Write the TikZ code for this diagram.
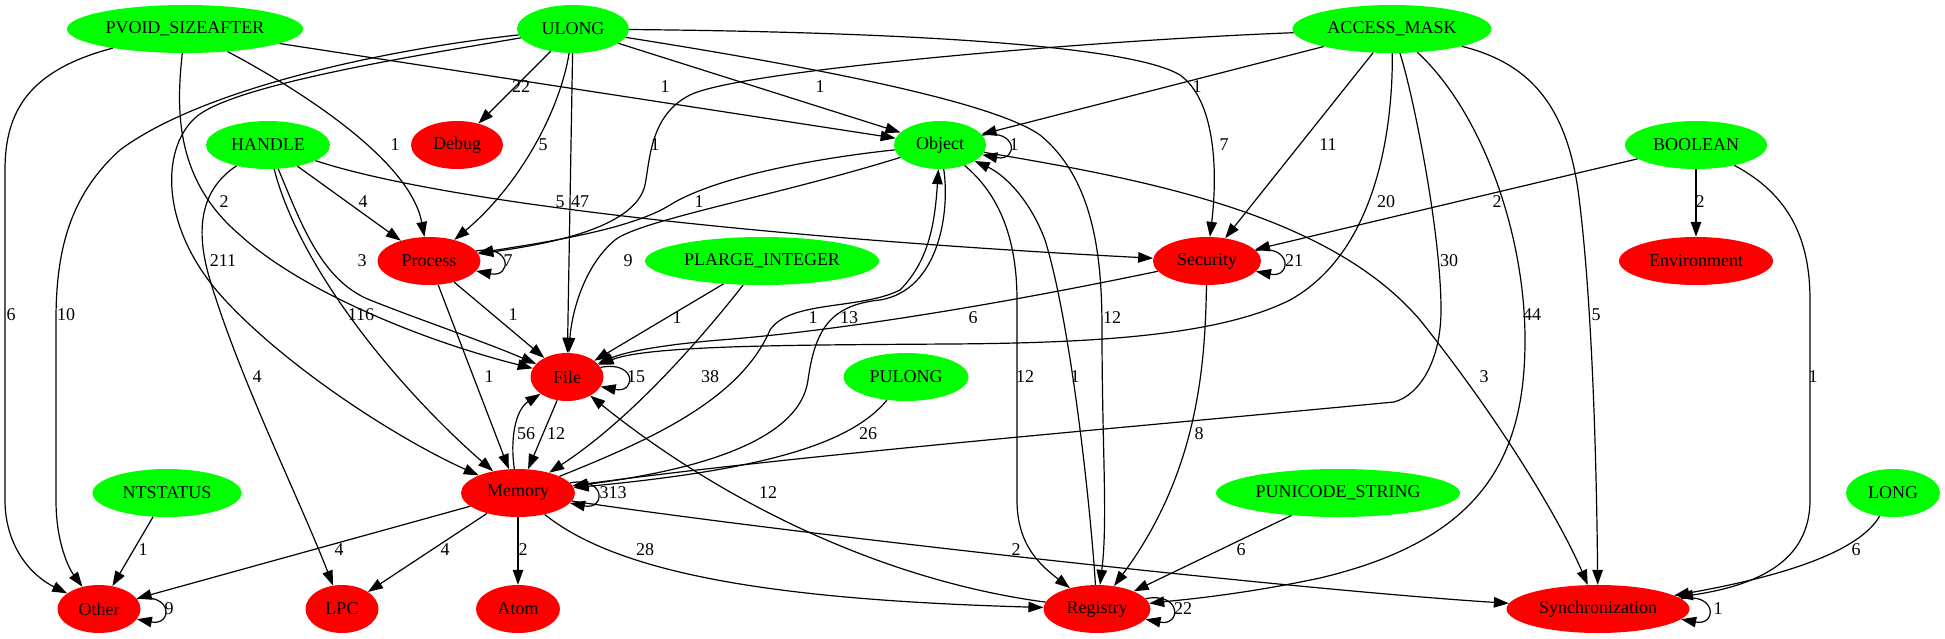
\documentclass[tikz,border=0pt]{standalone}
\usepackage{fontspec}
\setmainfont{Liberation Serif}
\usetikzlibrary{arrows.meta,shapes.geometric}
\definecolor{gvgreen}{HTML}{00FF00}
\definecolor{gvred}{HTML}{FF0000}
\begin{document}
\begin{tikzpicture}[x=1pt,y=-1pt,
  every node/.style={font=\fontsize{18}{20}\selectfont},
  gnode/.style={ellipse,fill=gvgreen,draw=none,inner sep=0pt,minimum height=48pt},
  rnode/.style={ellipse,fill=gvred,draw=none,inner sep=0pt,minimum height=48pt},
  conn/.style={line width=1.2pt,-{Triangle[length=15pt,width=10.5pt]}},
  lbl/.style={inner sep=0pt}
]
\useasboundingbox (0,0) rectangle (1945,639);
% nodes
\node[gnode,minimum width=236pt] (pvoid) at (185,29) {PVOID\_SIZEAFTER};
\node[gnode,minimum width=112pt] (ulong) at (573,29) {ULONG};
\node[gnode,minimum width=199pt] (amask) at (1392,29) {ACCESS\_MASK};
\node[gnode,minimum width=124pt] (handle) at (268,145) {HANDLE};
\node[rnode,minimum width=92pt] (debug) at (457,145) {Debug};
\node[gnode,minimum width=92pt] (object) at (940,145) {Object};
\node[gnode,minimum width=142pt] (boolean) at (1696,145) {BOOLEAN};
\node[rnode,minimum width=103pt] (process) at (429,261) {Process};
\node[gnode,minimum width=234pt] (plarge) at (762,261) {PLARGE\_INTEGER};
\node[rnode,minimum width=108pt] (security) at (1207,261) {Security};
\node[rnode,minimum width=154pt] (env) at (1696,261) {Environment};
\node[rnode,minimum width=73pt] (file) at (567,377) {File};
\node[gnode,minimum width=125pt] (pulong) at (906,377) {PULONG};
\node[gnode,minimum width=149pt] (ntstatus) at (167,493) {NTSTATUS};
\node[rnode,minimum width=114pt] (memory) at (518,493) {Memory};
\node[gnode,minimum width=244pt] (punicode) at (1338,493) {PUNICODE\_STRING};
\node[gnode,minimum width=94pt] (long) at (1893,493) {LONG};
\node[rnode,minimum width=83pt] (other) at (99,609) {Other};
\node[rnode,minimum width=73pt] (lpc) at (342,609) {LPC};
\node[rnode,minimum width=84pt] (atom) at (518,609) {Atom};
\node[rnode,minimum width=107pt] (registry) at (1097,609) {Registry};
\node[rnode,minimum width=183pt] (sync) at (1598,609) {Synchronization};
% PVOID_SIZEAFTER
\draw[conn] (pvoid) .. controls (30,70) and (5,110) .. (5,170) -- (5,500) .. controls (5,545) and (30,575) .. (other);
\draw[conn] (pvoid) .. controls (300,90) and (410,160) .. (process);
\draw[conn] (pvoid) .. controls (176,110) and (175,180) .. (240,235) .. controls (300,290) and (420,340) .. (file);
\draw[conn] (pvoid) -- (object);
% ULONG
\draw[conn] (ulong) .. controls (380,50) and (200,90) .. (120,150) .. controls (70,195) and (56,250) .. (56,320) -- (56,500) .. controls (56,545) and (70,570) .. (other);
\draw[conn] (ulong) .. controls (420,55) and (230,85) .. (195,118) .. controls (160,150) and (160,230) .. (225,300) .. controls (290,370) and (400,440) .. (memory);
\draw[conn] (ulong) -- (debug);
\draw[conn] (ulong) .. controls (560,110) and (520,185) .. (process);
\draw[conn] (ulong) -- (file);
\draw[conn] (ulong) -- (object);
\draw[conn] (ulong) .. controls (900,32) and (1130,45) .. (1180,75) .. controls (1215,100) and (1218,170) .. (security);
\draw[conn] (ulong) .. controls (800,65) and (990,100) .. (1040,135) .. controls (1095,180) and (1102,260) .. (1102,330) .. controls (1102,450) and (1108,520) .. (registry);
% ACCESS_MASK
\draw[conn] (amask) .. controls (1100,40) and (740,70) .. (690,95) .. controls (650,115) and (650,160) .. (645,185) .. controls (635,230) and (540,245) .. (process);
\draw[conn] (amask) -- (object);
\draw[conn] (amask) -- (security);
\draw[conn] (amask) .. controls (1393,120) and (1380,250) .. (1290,300) .. controls (1220,335) and (1100,343) .. (950,344) .. controls (800,345) and (650,345) .. (file);
\draw[conn] (amask) .. controls (1412,90) and (1441,230) .. (1441,310) .. controls (1441,360) and (1420,395) .. (1394,402) .. controls (1100,430) and (800,455) .. (memory);
\draw[conn] (amask) .. controls (1480,110) and (1525,230) .. (1525,340) .. controls (1525,460) and (1480,540) .. (1320,578) .. controls (1240,595) and (1180,600) .. (registry);
\draw[conn] (amask) .. controls (1525,62) and (1565,100) .. (1578,190) .. controls (1590,280) and (1596,420) .. (sync);
% HANDLE
\draw[conn] (handle) -- (process);
\draw[conn] (handle) .. controls (450,205) and (800,240) .. (security);
\draw[conn] (handle) .. controls (300,220) and (320,280) .. (370,300) .. controls (420,320) and (480,340) .. (file);
\draw[conn] (handle) .. controls (300,270) and (400,390) .. (memory);
\draw[conn] (handle) .. controls (200,190) and (195,230) .. (210,280) .. controls (240,380) and (300,500) .. (lpc);
% BOOLEAN
\draw[conn] (boolean) -- (security);
\draw[conn] (boolean) -- (env);
\draw[conn] (boolean) .. controls (1790,195) and (1810,240) .. (1810,300) -- (1810,500) .. controls (1810,560) and (1760,585) .. (sync);
% Object
\draw[conn] (object.13) .. controls +(36,-7) and +(36,7) .. (object.-13);
\draw[conn] (object) .. controls (800,160) and (710,180) .. (670,205) .. controls (630,230) and (540,243) .. (process);
\draw[conn] (object) .. controls (780,195) and (640,220) .. (615,240) .. controls (585,265) and (572,310) .. (file);
\draw[conn] (object) .. controls (950,210) and (940,290) .. (880,300) .. controls (830,305) and (815,330) .. (808,380) .. controls (800,440) and (700,470) .. (memory);
\draw[conn] (memory) .. controls (650,440) and (740,400) .. (770,330) .. controls (790,300) and (860,310) .. (900,290) .. controls (930,260) and (935,220) .. (object);
\draw[conn] (object) .. controls (1000,195) and (1017,240) .. (1017,300) -- (1017,500) .. controls (1017,545) and (1040,565) .. (registry);
\draw[conn] (registry) .. controls (1090,500) and (1070,320) .. (1045,240) .. controls (1030,200) and (1005,175) .. (object);
\draw[conn] (object) .. controls (1150,180) and (1330,215) .. (1420,320) .. controls (1500,420) and (1560,520) .. (sync);
% Process
\draw[conn] (process.12) .. controls +(36,-7) and +(36,7) .. (process.-12);
\draw[conn] (process) -- (file);
\draw[conn] (process) -- (memory);
% PLARGE_INTEGER
\draw[conn] (plarge) -- (file);
\draw[conn] (plarge) .. controls (700,340) and (630,420) .. (memory);
% Security
\draw[conn] (security.12) .. controls +(36,-7) and +(36,7) .. (security.-12);
\draw[conn] (security) .. controls (1020,300) and (850,330) .. (720,340) .. controls (660,345) and (625,352) .. (file);
\draw[conn] (security) .. controls (1205,360) and (1200,470) .. (registry);
% File
\draw[conn] (file.16) .. controls +(36,-7) and +(36,7) .. (file.-16);
\draw[conn] (file) -- (memory);
% Memory
\draw[conn] (memory) .. controls (510,440) and (515,410) .. (file);
\draw[conn] (pulong) .. controls (850,445) and (760,470) .. (memory);
\draw[conn] (memory.11) .. controls +(36,-7) and +(36,7) .. (memory.-11);
\draw[conn] (memory) -- (other);
\draw[conn] (memory) -- (lpc);
\draw[conn] (memory) -- (atom);
\draw[conn] (memory) .. controls (620,575) and (780,600) .. (registry);
\draw[conn] (memory) .. controls (800,535) and (1300,590) .. (sync);
% others
\draw[conn] (ntstatus) -- (other);
\draw[conn] (punicode) -- (registry);
\draw[conn] (registry.12) .. controls +(36,-7) and +(36,7) .. (registry.-12);
\draw[conn] (registry) .. controls (880,580) and (720,500) .. (file);
\draw[conn] (long) .. controls (1860,550) and (1790,575) .. (sync);
\draw[conn] (sync.7) .. controls +(36,-7) and +(36,7) .. (sync.-7);
\draw[conn] (other.15) .. controls +(36,-7) and +(36,7) .. (other.-15);
% labels
\node[lbl] (t1) at (11,315) {6};
\node[lbl] (t2) at (66,315) {10};
\node[lbl] (t3) at (395,145) {1};
\node[lbl] (t4) at (224,202) {2};
\node[lbl] (t5) at (665,87) {1};
\node[lbl] (t6) at (223,261) {211};
\node[lbl] (t7) at (521,87) {22};
\node[lbl] (t8) at (543,145) {5};
\node[lbl] (t9) at (580,202) {47};
\node[lbl] (t10) at (820,87) {1};
\node[lbl] (t11) at (1224,145) {7};
\node[lbl] (t12) at (1112,318) {12};
\node[lbl] (t13) at (655,145) {1};
\node[lbl] (t14) at (1197,87) {1};
\node[lbl] (t15) at (1328,145) {11};
\node[lbl] (t16) at (1386,202) {20};
\node[lbl] (t17) at (1449,261) {30};
\node[lbl] (t18) at (1532,315) {44};
\node[lbl] (t19) at (1596,315) {5};
\node[lbl] (t20) at (363,202) {4};
\node[lbl] (t21) at (560,202) {5};
\node[lbl] (t22) at (362,261) {3};
\node[lbl] (t23) at (361,315) {116};
\node[lbl] (t24) at (257,377) {4};
\node[lbl] (t25) at (1497,202) {2};
\node[lbl] (t26) at (1700,202) {2};
\node[lbl] (t27) at (1813,377) {1};
\node[lbl] (t28) at (1014,145) {1};
\node[lbl] (t29) at (699,202) {1};
\node[lbl] (t30) at (628,261) {9};
\node[lbl] (t31) at (813,318) {1};
\node[lbl] (t32) at (849,318) {13};
\node[lbl] (t33) at (1025,377) {12};
\node[lbl] (t34) at (1075,377) {1};
\node[lbl] (t35) at (1484,377) {3};
\node[lbl] (t36) at (508,261) {7};
\node[lbl] (t37) at (513,315) {1};
\node[lbl] (t38) at (489,377) {1};
\node[lbl] (t39) at (677,318) {1};
\node[lbl] (t40) at (710,377) {38};
\node[lbl] (t41) at (1294,261) {21};
\node[lbl] (t42) at (973,318) {6};
\node[lbl] (t43) at (1199,434) {8};
\node[lbl] (t44) at (636,377) {15};
\node[lbl] (t45) at (556,434) {12};
\node[lbl] (t46) at (526,434) {56};
\node[lbl] (t47) at (868,434) {26};
\node[lbl] (t48) at (613,493) {313};
\node[lbl] (t49) at (339,550) {4};
\node[lbl] (t50) at (445,550) {4};
\node[lbl] (t51) at (523,550) {2};
\node[lbl] (t52) at (645,550) {28};
\node[lbl] (t53) at (1016,550) {2};
\node[lbl] (t54) at (143,550) {1};
\node[lbl] (t55) at (1241,550) {6};
\node[lbl] (t56) at (1183,609) {22};
\node[lbl] (t57) at (768,493) {12};
\node[lbl] (t58) at (1856,550) {6};
\node[lbl] (t59) at (1718,609) {1};
\node[lbl] (t60) at (169,609) {9};
\end{tikzpicture}
\end{document}
